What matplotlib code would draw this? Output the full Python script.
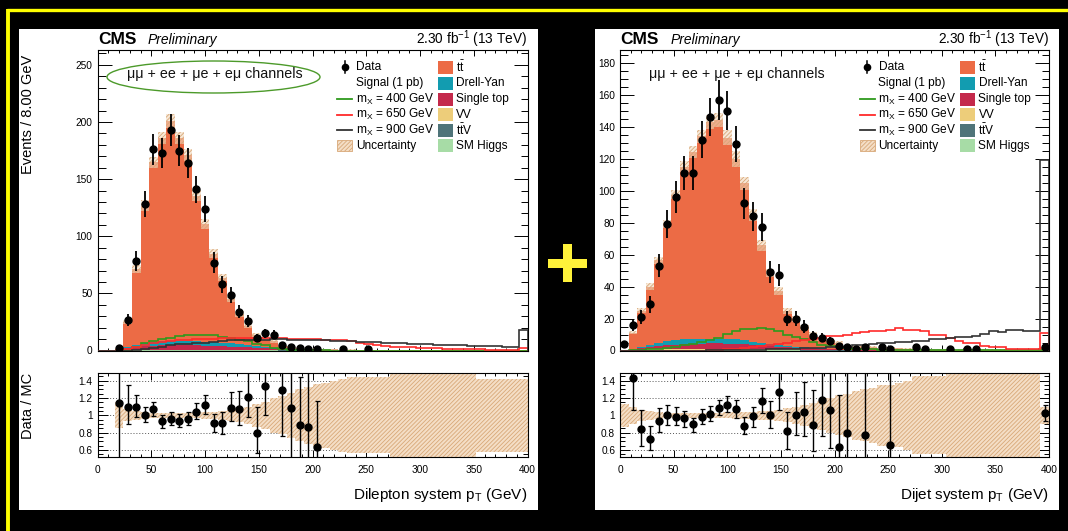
import numpy as np
import matplotlib
matplotlib.use("Agg")
import matplotlib.pyplot as plt
from matplotlib.patches import Rectangle, Ellipse
from matplotlib.ticker import MultipleLocator, FuncFormatter

plt.rcParams['font.family'] = ['Liberation Sans', 'DejaVu Sans']
plt.rcParams['mathtext.fontset'] = 'custom'
plt.rcParams['mathtext.rm'] = 'Liberation Sans'
plt.rcParams['mathtext.it'] = 'Liberation Sans:italic'
plt.rcParams['mathtext.bf'] = 'Liberation Sans:bold'
plt.rcParams['hatch.linewidth'] = 0.6

# ---------------------------------------------------------------- binning
edges = np.arange(0, 408, 8)          # 50 bins of 8 GeV, last bin holds overflow

# ---------------------------------------------------------------- dilepton pT
ttbar_L = [0, 0, 1.3, 21.7, 66.1, 120.1, 156.9, 177.8, 192.4, 177.4,
           162.4, 127.4, 103.1, 77.6, 57.1, 38.9, 26.3, 16.8, 9.8, 8.0,
           6.0, 2.0, 1.2, 1.2, 0.4, 1.1, 0.9, 0.7, 0.4, 0.6,
           0.45, 0.4, 0.45, 0.4, 0.35, 0.3, 0.3, 0.28, 0.25, 0.25,
           0.22, 0.2, 0.2, 0.18, 0.17, 0.16, 0.15, 0.14, 0.13, 0.6]
dy_L = [0, 0, 0.2, 1.0, 2.0, 3.0, 3.5, 3.8, 4.0, 4.0,
        4.0, 3.8, 3.5, 3.2, 3.0, 2.8, 2.5, 2.1, 1.6, 1.2,
        0.8, 0.5, 0.4, 0.3, 0.2, 0.2, 0.1, 0, 0, 0,
        0, 0, 0, 0, 0, 0, 0, 0, 0, 0,
        0, 0, 0, 0, 0, 0, 0, 0, 0, 0]
stop_L = [0, 0, 0.2, 1.2, 2.2, 3.0, 3.5, 3.8, 4.0, 4.0,
          4.0, 3.8, 3.5, 3.2, 3.0, 2.7, 2.4, 2.0, 1.7, 1.4,
          1.1, 0.8, 0.6, 0.5, 0.3, 0.3, 0.2, 0.2, 0.1, 0.1,
          0.1, 0, 0, 0, 0, 0, 0, 0, 0, 0,
          0, 0, 0, 0, 0, 0, 0, 0, 0, 0]
vv_L = [0, 0, 0.05, 0.3, 0.3, 0.3, 0.3, 0.3, 0.3, 0.3,
        0.3, 0.3, 0.3, 0.3, 0.3, 0.3, 0.3, 0.3, 0.3, 0.3,
        0.3, 0.3, 0.3, 0, 0, 0, 0, 0, 0, 0,
        0, 0, 0, 0, 0, 0, 0, 0, 0, 0,
        0, 0, 0, 0, 0, 0, 0, 0, 0, 0]
ttv_L = [0, 0, 0, 0.3, 0.3, 0.3, 0.3, 0.3, 0.3, 0.3,
         0.3, 0.3, 0.3, 0.3, 0.3, 0.3, 0.3, 0.3, 0.3, 0.3,
         0.3, 0.3, 0.3, 0.3, 0.3, 0, 0, 0, 0, 0,
         0, 0, 0, 0, 0, 0, 0, 0, 0, 0,
         0, 0, 0, 0, 0, 0, 0, 0, 0, 0]
higgs_L = [0, 0, 0, 0.05, 0.05, 0.05, 0.05, 0.05, 0.05, 0.05,
           0.05, 0.05, 0.05, 0.05, 0.05, 0.05, 0.05, 0.05, 0.05, 0.05,
           0.05, 0, 0, 0, 0, 0, 0, 0, 0, 0,
           0, 0, 0, 0, 0, 0, 0, 0, 0, 0,
           0, 0, 0, 0, 0, 0, 0, 0, 0, 0]
unc_L = [0, 0, 0.15, 0.07, 0.05, 0.04, 0.03, 0.03, 0.03, 0.03,
         0.03, 0.035, 0.04, 0.045, 0.05, 0.06, 0.08, 0.10, 0.13, 0.16,
         0.20, 0.22, 0.26, 0.30, 0.33, 0.36, 0.38, 0.40, 0.42, 0.44,
         0.44, 0.44, 0.44, 0.44, 0.60, 0.60, 0.60, 0.60, 0.60, 0.60,
         0.60, 0.60, 0.60, 0.60, 0.42, 0.42, 0.42, 0.42, 0.42, 0.42]
sig400_L = [0, 0, 0, 0.5, 3.5, 6.5, 8.5, 10.0, 11.0, 12.5,
            13.5, 14.0, 14.0, 13.5, 12.0, 11.0, 9.5, 8.0, 6.0, 4.5,
            2.5, 1.2, 0.5, 0.2, 0.1, 0.1, 0.05, 0, 0, 0,
            0, 0, 0, 0, 0, 0, 0, 0, 0, 0,
            0, 0, 0, 0, 0, 0, 0, 0, 0, 0]
sig650_L = [0, 0, 0, 1.0, 3.5, 5.0, 6.4, 7.3, 8.2, 8.8,
            9.3, 9.9, 10.2, 10.5, 10.8, 11.0, 11.0, 11.0, 11.0, 11.0,
            10.8, 10.6, 10.4, 10.2, 10.0, 9.8, 9.5, 9.2, 9.0, 8.2,
            7.0, 5.5, 4.6, 4.0, 3.4, 3.0, 2.7, 2.4, 2.0, 1.8,
            1.6, 1.4, 1.2, 1.0, 0.9, 0.8, 0.8, 0.7, 0.7, 2.4]
sig900_L = [0, 0, 0, 0, 0.5, 1.0, 2.3, 3.5, 4.4, 5.3,
            5.8, 6.4, 7.0, 7.6, 8.2, 8.8, 9.0, 9.3, 9.5, 9.6,
            9.7, 9.7, 9.6, 9.5, 9.3, 9.1, 8.9, 8.6, 8.3, 8.0,
            7.7, 7.4, 7.1, 6.8, 6.5, 6.2, 5.9, 5.6, 5.3, 5.0,
            4.8, 4.6, 4.4, 4.2, 4.0, 3.8, 3.6, 3.5, 3.4, 18.0]
data_x_L = [20, 28, 36, 44, 52, 60, 68, 76, 84, 92, 100, 108, 116, 124, 132,
            140, 148, 156, 164, 172, 180, 188, 196, 204, 228, 252]
data_y_L = [2, 27, 78, 128, 176, 173, 193, 175, 164, 141, 124, 77, 58, 49, 34,
            26, 11, 15, 14, 5, 3, 2, 1, 1, 1, 1]
ratio_x_L = [20, 28, 36, 44, 52, 60, 68, 76, 84, 92, 100, 108, 116, 124, 132,
             140, 148, 156, 172, 180, 188, 196, 204]
ratio_y_L = [1.14, 1.10, 1.10, 1.01, 1.07, 0.93, 0.96, 0.94, 0.96, 1.04, 1.12, 0.91,
             0.91, 1.09, 1.07, 1.21, 0.80, 1.34, 1.29, 1.08, 0.89, 0.87, 0.63]
ratio_lo_L = [0.74, 0.20, 0.12, 0.09, 0.08, 0.07, 0.07, 0.07, 0.07, 0.08, 0.10, 0.10,
              0.12, 0.15, 0.18, 0.23, 0.23, 0.34, 0.53, 0.58, 0.40, 0.40, 0.20]
ratio_hi_L = [1.50, 0.25, 0.14, 0.09, 0.09, 0.07, 0.08, 0.08, 0.08, 0.10, 0.11, 0.11,
              0.13, 0.18, 0.21, 0.30, 0.30, 0.44, 0.87, 0.80, 0.55, 0.65, 0.54]

# ---------------------------------------------------------------- dijet pT
ttbar_R = [0.3, 10.6, 22.6, 36.3, 51.8, 73.4, 90.9, 108.1, 116.8, 126.7,
           135.6, 136.6, 125.7, 112.9, 98.2, 79.4, 61.2, 44.5, 33.8, 21.8,
           17.6, 12.5, 8.5, 5.5, 4.6, 4.0, 1.9, 1.9, 2.4, 1.8,
           1.1, 1.4, 1.3, 1.2, 1.1, 0.6, 0.8, 0.7, 0.5, 0.6,
           0.4, 0.4, 0.5, 0.4, 0.4, 0.35, 0.3, 0.3, 0.3, 2.0]
dy_R = [0, 0.3, 0.8, 1.5, 2.0, 2.5, 3.0, 3.0, 3.0, 3.0,
        3.0, 3.0, 3.0, 2.8, 2.5, 2.0, 1.5, 1.2, 0.8, 0.6,
        0.4, 0.3, 0.2, 0.1, 0, 0, 0, 0, 0, 0,
        0, 0, 0, 0, 0, 0, 0, 0, 0, 0,
        0, 0, 0, 0, 0, 0, 0, 0, 0, 0]
stop_R = [0, 0.3, 1.0, 1.5, 2.0, 2.5, 3.0, 3.3, 3.5, 3.7,
          3.8, 3.8, 3.7, 3.5, 3.2, 2.8, 2.5, 2.2, 1.8, 1.5,
          1.2, 1.0, 0.8, 0.6, 0.5, 0.4, 0.3, 0.3, 0.2, 0.2,
          0.1, 0.1, 0, 0, 0, 0, 0, 0, 0, 0,
          0, 0, 0, 0, 0, 0, 0, 0, 0, 0]
vv_R = [0, 0, 0.3, 0.3, 0.3, 0.3, 0.3, 0.3, 0.3, 0.3,
        0.3, 0.3, 0.3, 0.3, 0.3, 0.3, 0.3, 0.3, 0.3, 0.3,
        0.3, 0.3, 0.3, 0.3, 0.3, 0, 0, 0, 0, 0,
        0, 0, 0, 0, 0, 0, 0, 0, 0, 0,
        0, 0, 0, 0, 0, 0, 0, 0, 0, 0]
ttv_R = [0, 0, 0.3, 0.3, 0.3, 0.3, 0.3, 0.3, 0.3, 0.3,
         0.3, 0.3, 0.3, 0.3, 0.3, 0.3, 0.3, 0.3, 0.3, 0.3,
         0.3, 0.3, 0.3, 0.3, 0.3, 0.3, 0.3, 0, 0, 0,
         0, 0, 0, 0, 0, 0, 0, 0, 0, 0,
         0, 0, 0, 0, 0, 0, 0, 0, 0, 0]
higgs_R = [0, 0, 0, 0.05, 0.05, 0.05, 0.05, 0.05, 0.05, 0.05,
           0.05, 0.05, 0.05, 0.05, 0.05, 0.05, 0.05, 0.05, 0.05, 0.05,
           0.05, 0, 0, 0, 0, 0, 0, 0, 0, 0,
           0, 0, 0, 0, 0, 0, 0, 0, 0, 0,
           0, 0, 0, 0, 0, 0, 0, 0, 0, 0]
unc_R = [0.13, 0.10, 0.06, 0.05, 0.04, 0.03, 0.03, 0.03, 0.03, 0.03,
         0.03, 0.03, 0.035, 0.04, 0.04, 0.045, 0.05, 0.055, 0.065, 0.08,
         0.10, 0.12, 0.14, 0.17, 0.20, 0.23, 0.25, 0.28, 0.30, 0.32,
         0.35, 0.35, 0.37, 0.40, 0.45, 0.45, 0.45, 0.45, 0.60, 0.60,
         0.60, 0.60, 0.60, 0.60, 0.60, 0.60, 0.60, 0.60, 0.60, 0.10]
sig400_R = [0, 0.2, 0.5, 0.9, 1.2, 1.6, 2.2, 3.2, 3.9, 5.2,
            6.7, 7.9, 10.4, 12.0, 13.5, 13.6, 14.0, 13.3, 12.1, 10.0,
            8.3, 7.3, 5.5, 3.5, 2.7, 2.2, 1.6, 1.2, 0.9, 0.7,
            0.5, 0.4, 0.3, 0.3, 0.2, 0.2, 0.2, 0.1, 0.1, 0.1,
            0.1, 0.1, 0.1, 0.1, 0.1, 0.1, 0.1, 0.1, 0.1, 0.2]
sig650_R = [0, 0, 0, 0, 0, 0, 0, 0, 0, 0,
            0.3, 0.5, 0.8, 1.2, 1.7, 2.2, 2.8, 3.4, 4.2, 5.0,
            5.8, 6.6, 7.3, 7.9, 8.8, 9.2, 10.0, 11.0, 11.3, 12.0,
            12.4, 13.1, 14.0, 13.0, 12.6, 12.3, 10.0, 9.6, 7.9, 5.8,
            4.8, 4.4, 3.1, 2.2, 2.0, 1.2, 1.0, 1.0, 0.9, 10.8]
sig900_R = [0, 0, 0, 0, 0, 0, 0, 0, 0, 0,
            0.1, 0.1, 0.2, 0.3, 0.4, 0.5, 0.6, 0.8, 1.0, 1.1,
            1.2, 1.4, 1.5, 1.7, 1.9, 2.1, 2.3, 3.2, 3.5, 3.8,
            4.6, 5.0, 5.2, 5.6, 5.8, 6.2, 7.0, 7.4, 8.1, 8.4,
            8.7, 9.0, 10.4, 12.0, 11.5, 13.0, 12.8, 12.2, 12.4, 119.0]
data_x_R = [4, 12, 20, 28, 36, 44, 52, 60, 68, 76, 84, 92, 100, 108, 116, 124,
            132, 140, 148, 156, 164, 172, 180, 188, 196, 204, 212, 220, 228,
            244, 252, 276, 284, 308, 324, 332, 396]
data_y_R = [4, 16, 21, 29, 53, 79, 96, 111, 111, 132, 146, 157, 150, 129, 92, 84,
            77, 49, 47, 20, 20, 15, 9, 8, 6, 3, 2, 1, 2,
            2, 1, 2, 1, 1, 1, 1, 2]
ratio_x_R = [12, 20, 28, 36, 44, 52, 60, 68, 76, 84, 92, 100, 108, 116, 124,
             132, 140, 148, 156, 164, 172, 180, 188, 196, 204, 212, 228, 252, 396]
ratio_y_R = [1.43, 0.84, 0.73, 0.94, 1.00, 0.985, 0.965, 0.895, 0.985, 1.02, 1.09,
             1.125, 1.075, 0.88, 0.99, 1.17, 1.01, 1.27, 0.815, 1.01, 1.04, 0.89,
             1.18, 1.06, 0.64, 0.80, 0.77, 0.655, 1.03]
ratio_lo_R = [0.37, 0.19, 0.13, 0.13, 0.11, 0.10, 0.10, 0.09, 0.08, 0.09, 0.09,
              0.09, 0.10, 0.09, 0.12, 0.14, 0.16, 0.21, 0.20, 0.24, 0.28, 0.30,
              0.42, 0.44, 0.30, 0.40, 0.40, 0.30, 0.10]
ratio_hi_R = [0.45, 0.22, 0.15, 0.15, 0.12, 0.11, 0.09, 0.08, 0.09, 0.09, 0.09,
              0.10, 0.10, 0.10, 0.11, 0.15, 0.16, 0.25, 0.22, 0.26, 0.35, 0.40,
              0.50, 0.50, 0.60, 0.80, 0.80, 1.00, 0.09]

# ---------------------------------------------------------------- style
C_TT, C_DY, C_ST = '#EC6B45', '#129CB0', '#C4294B'
C_VV, C_TTV, C_H = '#EDCD7A', '#4F7479', '#A7DCA6'
C_S400, C_S650, C_S900 = '#2E9A1C', '#FF2A2A', '#333333'
HATCH_EDGE = '#D8A878'
HATCH_FACE_MAIN = (0.95, 0.85, 0.74, 0.6)
HATCH_FACE_RATIO = '#F4DEC6'
YELLOW = '#FFFF00'

W, H = 1068, 531
fig = plt.figure(figsize=(W / 100, H / 100), dpi=100)
fig.patch.set_facecolor('black')


def px_axes(x0, y0, x1, y1, z=2):
    ax = fig.add_axes([x0 / W, 1 - y1 / H, (x1 - x0) / W, (y1 - y0) / H], zorder=z)
    ax.set_facecolor('none')
    return ax


bg = fig.add_axes([0, 0, 1, 1], zorder=0)
bg.set_xlim(0, W); bg.set_ylim(H, 0); bg.axis('off')
bg.add_patch(Rectangle((19, 29), 519, 481, color='white', lw=0))
bg.add_patch(Rectangle((595, 29), 464, 481, color='white', lw=0))
bg.plot([6.5, W + 5], [10.4, 10.4], color=YELLOW, lw=2.4, solid_capstyle='butt')
bg.plot([8.2, 8.2], [9, H + 5], color=YELLOW, lw=2.8, solid_capstyle='butt')
bg.add_patch(Rectangle((548, 258.5), 39, 9.5, color='#FFF23A', lw=0))
bg.add_patch(Rectangle((562.5, 244), 9.5, 38, color='#FFF23A', lw=0))

fg = fig.add_axes([0, 0, 1, 1], zorder=10)
fg.set_xlim(0, W); fg.set_ylim(H, 0); fg.axis('off')
fg.patch.set_alpha(0)


def style_axes(ax, ymaj, ymin, ylen, xlen, label_x):
    ax.set_xlim(0, 400)
    ax.xaxis.set_major_locator(MultipleLocator(50))
    ax.xaxis.set_minor_locator(MultipleLocator(10))
    ax.yaxis.set_major_locator(MultipleLocator(ymaj))
    ax.yaxis.set_minor_locator(MultipleLocator(ymin))
    ax.tick_params(which='both', direction='in', top=True, right=True,
                   width=0.7, color='black', labelsize=7.3, pad=3.5)
    ax.tick_params(axis='y', which='major', length=ylen[0])
    ax.tick_params(axis='y', which='minor', length=ylen[1])
    ax.tick_params(axis='x', which='major', length=xlen[0])
    ax.tick_params(axis='x', which='minor', length=xlen[1])
    ax.tick_params(axis='x', labelbottom=label_x, pad=6)
    for sp in ax.spines.values():
        sp.set_linewidth(0.8)


def draw_panel(x0, x1, stack, unc, signals, dx, dy_, rx, ry, rlo, rhi, ymax, ymaj, ymin, xlabel):
    ax = px_axes(x0, 50, x1, 350.5)
    ar = px_axes(x0, 373, x1, 456.5)
    style_axes(ax, ymaj, ymin, (10, 5.4), (4.3, 2.5), False)
    style_axes(ar, 0.2, 0.05, (7.2, 3.6), (5.0, 2.5), True)
    ax.set_ylim(0, ymax)
    ar.set_ylim(0.525, 1.49)
    ar.yaxis.set_major_formatter(FuncFormatter(lambda v, _: f'{v:g}'))

    # stacked backgrounds
    base = np.zeros(len(edges) - 1)
    for vals, col in stack:
        top = base + np.asarray(vals, float)
        ax.stairs(top, edges, baseline=base, fill=True, color=col, lw=0, zorder=2)
        base = top
    u = np.asarray(unc, float)
    ax.stairs(base * (1 + u), edges, baseline=base * (1 - u), fill=True,
              facecolor=HATCH_FACE_MAIN, edgecolor=HATCH_EDGE, hatch='////////',
              lw=0, zorder=3)

    # signal hypotheses
    for vals, col in signals:
        ax.stairs(vals, edges, color=col, lw=1.2, zorder=4)

    # data
    dy_arr = np.asarray(dy_, float)
    ax.errorbar(dx, dy_arr, yerr=np.sqrt(dy_arr), fmt='o', color='black', ms=5,
                elinewidth=1.3, capsize=0, zorder=6)

    # ratio panel
    ar.yaxis.grid(True, which='major', linestyle=(0, (1, 2)), color='#555555', lw=0.7)
    ar.set_axisbelow(True)
    ar.stairs(1 + u, edges, baseline=1 - u, fill=True, facecolor=HATCH_FACE_RATIO,
              edgecolor=HATCH_EDGE, hatch='////////', lw=0, zorder=2)
    ar.errorbar(rx, ry, yerr=[rlo, rhi], fmt='o', color='black', ms=5,
                elinewidth=1.0, capsize=1.8, capthick=0.9, zorder=6)

    fg.text(x1, 495, xlabel, ha='right', va='center', fontsize=11)
    return ax, ar


stack_L = [(higgs_L, C_H), (ttv_L, C_TTV), (vv_L, C_VV), (stop_L, C_ST), (dy_L, C_DY), (ttbar_L, C_TT)]
stack_R = [(higgs_R, C_H), (ttv_R, C_TTV), (vv_R, C_VV), (stop_R, C_ST), (dy_R, C_DY), (ttbar_R, C_TT)]
sigs_L = [(sig400_L, C_S400), (sig650_L, C_S650), (sig900_L, C_S900)]
sigs_R = [(sig400_R, C_S400), (sig650_R, C_S650), (sig900_R, C_S900)]

draw_panel(97.5, 527.5, stack_L, unc_L, sigs_L, data_x_L, data_y_L,
           ratio_x_L, ratio_y_L, ratio_lo_L, ratio_hi_L, 263, 50, 10,
           r'Dilepton system p$_\mathrm{T}$ (GeV)')
draw_panel(620, 1049, stack_R, unc_R, sigs_R, data_x_R, data_y_R,
           ratio_x_R, ratio_y_R, ratio_lo_R, ratio_hi_R, 188, 20, 5,
           r'Dijet system p$_\mathrm{T}$ (GeV)')

# axis titles on the left panel
fg.text(28, 55, 'Events / 8.00 GeV', rotation=90, ha='center', va='top', fontsize=10.5)
fg.text(28, 373, 'Data / MC', rotation=90, ha='center', va='top', fontsize=10.5)

LEG = 8.6
left_keys = [('Data', None), ('Signal (1 pb)', None),
             (r'm$_\mathrm{X}$ = 400 GeV', C_S400), (r'm$_\mathrm{X}$ = 650 GeV', C_S650),
             (r'm$_\mathrm{X}$ = 900 GeV', C_S900), ('Uncertainty', None)]
right_keys = [(r'$\mathrm{t\bar{t}}$', C_TT), ('Drell-Yan', C_DY), ('Single top', C_ST),
              ('VV', C_VV), (r'$\mathrm{t\bar{t}}$V', C_TTV), ('SM Higgs', C_H)]
rows = [67, 83, 99, 114.5, 130, 145.5]

for off, x1 in ((0, 527.5), (522.5, 1049)):
    # header texts
    fg.text(98 + off, 44, 'CMS', fontsize=12.5, fontweight='bold', va='baseline', ha='left')
    fg.text(148 + off, 44, 'Preliminary', fontsize=10, style='italic', va='baseline', ha='left')
    fg.text(x1, 44, r'2.30 fb$^{-1}$ (13 TeV)', fontsize=9.8, va='baseline', ha='right')
    fg.text(214.5 + off, 74, 'μμ + ee + μe + eμ channels', fontsize=10.3,
            ha='center', va='center', color='#111111')

    # legend, first column
    kx0, kx1, tx = 337 + off, 352 + off, 356 + off
    mx = 344.5 + off
    fg.plot([mx, mx], [rows[0] - 6, rows[0] + 6], color='black', lw=1.1)
    fg.plot([mx], [rows[0]], 'o', color='black', ms=4.5)
    for (lab, col), ry_ in zip(left_keys, rows):
        if col is not None:
            fg.plot([kx0, kx1], [ry_, ry_], color=col, lw=1.3)
        fg.text(tx, ry_, lab, fontsize=LEG, va='center', ha='left')
    fg.add_patch(Rectangle((kx0, rows[5] - 5.5), 15, 11, facecolor=HATCH_FACE_RATIO,
                           edgecolor=HATCH_EDGE, hatch='////////', lw=0.6))
    # legend, second column
    for (lab, col), ry_ in zip(right_keys, rows):
        fg.add_patch(Rectangle((437.5 + off, ry_ - 6.5), 15, 13, facecolor=col, lw=0))
        fg.text(456 + off, ry_, lab, fontsize=LEG, va='center', ha='left')

# channel label frame on the dilepton panel
fg.add_patch(Ellipse((213.5, 77), 213, 32, fill=False, edgecolor='#4C9A2A', lw=1.0))

fig.savefig('out.png', dpi=100, facecolor=fig.get_facecolor())
